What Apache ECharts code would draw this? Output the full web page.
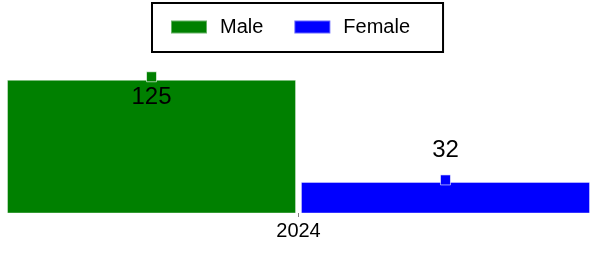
<!DOCTYPE html>
<html>
<head>
<meta charset="utf-8">
<script src="https://cdn.jsdelivr.net/npm/echarts@6/dist/echarts.min.js"></script>
<style>
  html, body { margin: 0; padding: 0; background: #fff; }
  #chart { width: 603px; height: 257px; }
</style>
</head>
<body>
<div id="chart"></div>
<script>
var years = ['2024'];
var male = [125];
var female = [32];

var font = 'Liberation Sans, Arial, sans-serif';

function marks(values) {
    return values.map(function (v, i) {
        return { coord: [years[i], v], value: v };
    });
}

var myChart = echarts.init(document.getElementById('chart'));
var option = {
    animation: false,
    legend: {
        left: 152,
        top: 3,
        padding: [14, 33, 15, 18],
        itemGap: 30,
        itemWidth: 36,
        itemHeight: 13,
        borderColor: '#000',
        borderWidth: 2,
        icon: 'rect',
        textStyle: {
            color: '#000',
            fontSize: 20,
            fontFamily: font,
            padding: [0, 0, 0, 8]
        },
        data: ['Male', 'Female']
    },
    grid: {
        left: 7,
        right: 13,
        top: 60,
        bottom: 44
    },
    xAxis: {
        type: 'category',
        data: years,
        axisLine: { show: false },
        axisTick: {
            show: true,
            alignWithLabel: true,
            length: 4,
            lineStyle: { color: '#808080' }
        },
        axisLabel: {
            margin: 8,
            color: '#000',
            fontSize: 20,
            fontFamily: font
        }
    },
    yAxis: {
        type: 'value',
        show: false,
        min: 3.7,
        max: 143
    },
    series: [{
        name: 'Male',
        type: 'bar',
        clip: true,
        barCategoryGap: 0,
        barGap: '1.7%',
        itemStyle: {
            color: '#008000',
            borderColor: 'rgba(255,255,255,0.4)',
            borderWidth: 1
        },
        data: male,
        markPoint: {
            symbol: 'rect',
            symbolSize: 10,
            symbolOffset: [0, -3],
            itemStyle: {
                color: '#008000',
                borderColor: 'rgba(255,255,255,0.6)',
                borderWidth: 1
            },
            label: {
                show: true,
                position: 'bottom',
                distance: 3,
                color: '#000',
                fontSize: 24,
                fontFamily: font
            },
            data: marks(male)
        }
    }, {
        name: 'Female',
        type: 'bar',
        clip: true,
        barCategoryGap: 0,
        barGap: '1.7%',
        itemStyle: {
            color: '#0000ff',
            borderColor: 'rgba(255,255,255,0.4)',
            borderWidth: 1
        },
        data: female,
        markPoint: {
            symbol: 'rect',
            symbolSize: 10,
            symbolOffset: [0, -2],
            itemStyle: {
                color: '#0000ff',
                borderColor: 'rgba(255,255,255,0.6)',
                borderWidth: 1
            },
            label: {
                show: true,
                position: 'top',
                distance: 12,
                color: '#000',
                fontSize: 24,
                fontFamily: font
            },
            data: marks(female)
        }
    }]
};
myChart.setOption(option);
</script>
</body>
</html>
